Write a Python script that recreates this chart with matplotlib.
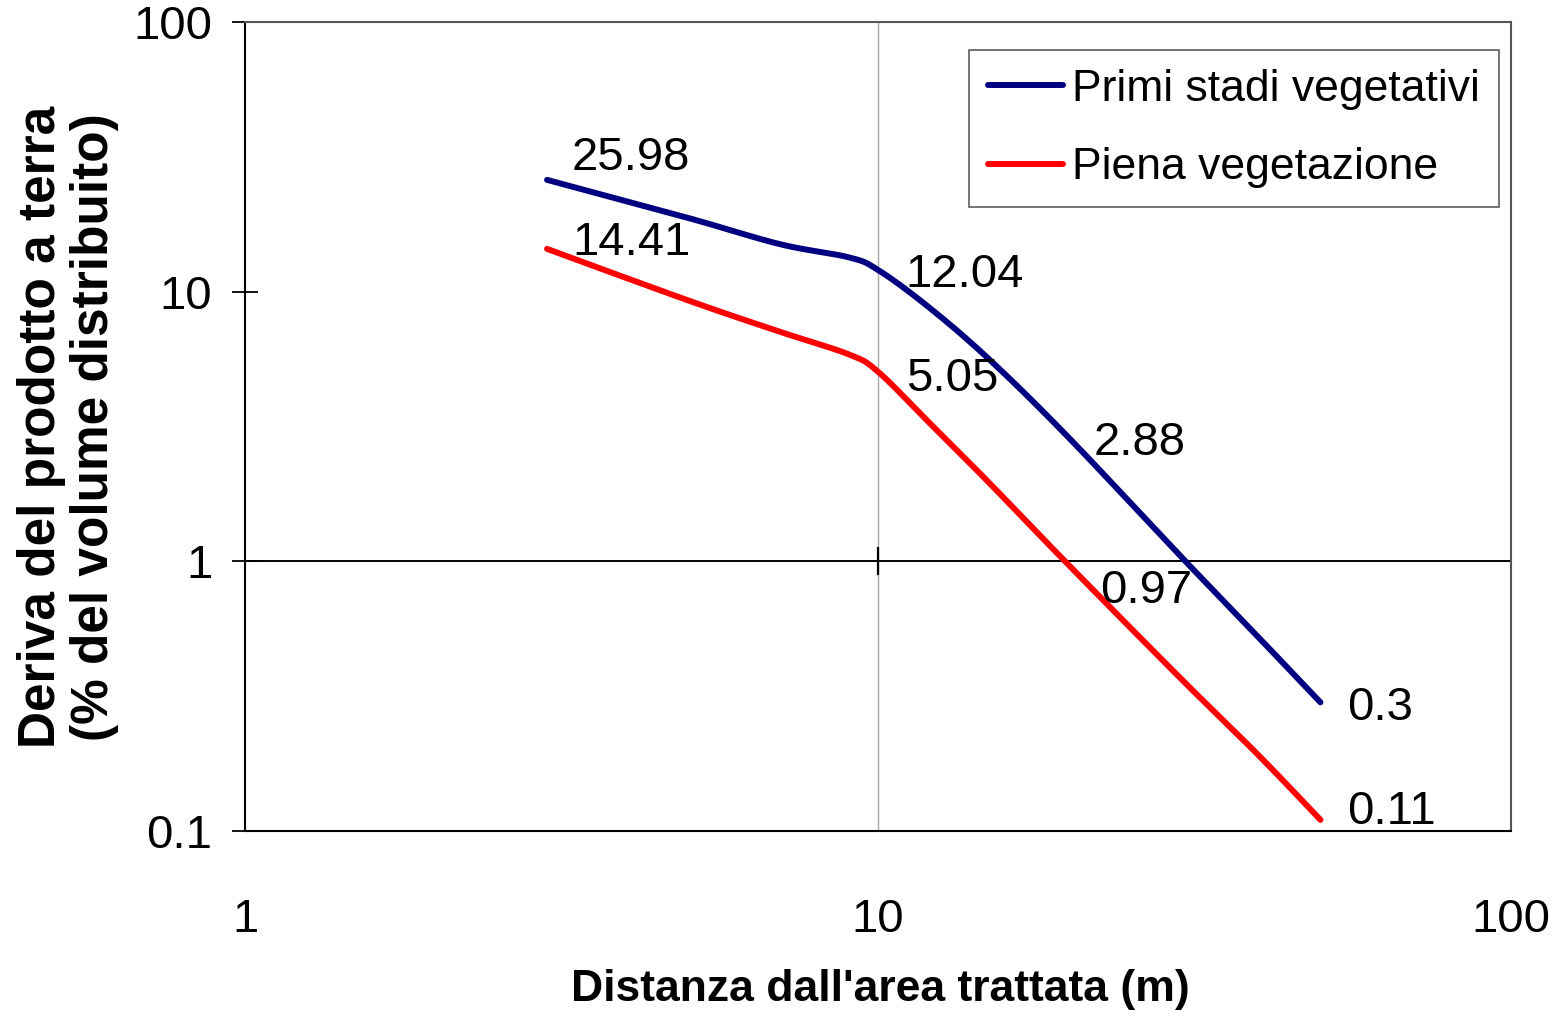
import numpy as np
import matplotlib
matplotlib.use('Agg')
import matplotlib.pyplot as plt

plt.rcParams['font.family'] = ['Liberation Sans', 'DejaVu Sans']

# data (distance in m, drift in %)
distanza = [3, 5, 7, 9, 10, 12, 15, 20, 30, 40, 50]
primi_stadi = [25.98, 18.8, 15.0, 13.4, 12.04, 8.8, 5.6, 2.88, 1.05, 0.52, 0.3]
piena_veg = [14.41, 9.3, 7.1, 5.85, 5.05, 3.3, 1.95, 0.97, 0.37, 0.19, 0.11]

# points carrying a data label
lab_idx = [0, 4, 7, 10]
labels_primi = ['25.98', '12.04', '2.88', '0.3']
labels_piena = ['14.41', '5.05', '0.97', '0.11']

# label offsets in points (layout only)
off_primi = [(18, 16), (20, -4), (18, -4), (19, -4)]
off_piena = [(18, 4), (20, -5), (23, -19), (19, 6)]

num_size = 34


def smooth(xs, ys, n=40):
    # excel-like smoothed line: catmull-rom bezier in log-log space
    P = np.column_stack([np.log10(xs), np.log10(ys)])
    P = np.vstack([P[0], P, P[-1]])
    out = []
    t = np.linspace(0, 1, n)[:, None]
    for i in range(1, len(P) - 2):
        p0, p1, p2, p3 = P[i-1], P[i], P[i+1], P[i+2]
        c1 = p1 + (p2 - p0) / 6
        c2 = p2 - (p3 - p1) / 6
        seg = (1-t)**3*p1 + 3*(1-t)**2*t*c1 + 3*(1-t)*t**2*c2 + t**3*p2
        out.append(seg)
    out = np.vstack(out)
    return 10**out[:, 0], 10**out[:, 1]


W, H = 1557, 1016
fig = plt.figure(figsize=(W/100, H/100), dpi=100)
ax = fig.add_axes([245/W, 1-831/H, (1511-245)/W, (831-22)/H])

ax.set_xscale('log')
ax.set_yscale('log')
ax.set_xlim(1, 100)
ax.set_ylim(0.1, 100)

blue = '#000080'
red = '#ff0000'

xb, yb = smooth(distanza, primi_stadi)
xr, yr = smooth(distanza, piena_veg)
ax.plot(xb, yb, color=blue, lw=4.3, solid_capstyle='round', label='Primi stadi vegetativi', zorder=4)
ax.plot(xr, yr, color=red, lw=4.3, solid_capstyle='round', label='Piena vegetazione', zorder=4)

for i, s, o in zip(lab_idx, labels_primi, off_primi):
    ax.annotate(s, (distanza[i], primi_stadi[i]), xytext=o, textcoords='offset points',
                fontsize=num_size, ha='left', va='center', zorder=5)
for i, s, o in zip(lab_idx, labels_piena, off_piena):
    ax.annotate(s, (distanza[i], piena_veg[i]), xytext=o, textcoords='offset points',
                fontsize=num_size, ha='left', va='center', zorder=5)

# gridline at x=10, category axis crossing at y=1
ax.axvline(10, color='#a6a6a6', lw=1.0, zorder=1)
ax.axhline(1, color='black', lw=1.4, zorder=2)
ax.axvline(10, ymin=1/3 - 13/809, ymax=1/3 + 13/809, color='black', lw=1.6, zorder=2)

for s in ['left', 'bottom']:
    ax.spines[s].set_color('black')
    ax.spines[s].set_linewidth(1.5)
for s in ['top', 'right']:
    ax.spines[s].set_color('#555555')
    ax.spines[s].set_linewidth(1.5)

ax.set_yticks([0.1, 1, 10, 100])
ax.set_yticklabels(['0.1', '1', '10', '100'])
ax.set_xticks([1, 10, 100])
ax.set_xticklabels(['1', '10', '100'])
ax.minorticks_off()
ax.tick_params(axis='y', direction='inout', length=19, width=1.3, labelsize=num_size, pad=14)
ax.tick_params(axis='x', length=0, labelsize=num_size, pad=48)

fig.text(880/W, 1-990/H, "Distanza dall'area trattata (m)", fontsize=32,
         fontweight='bold', ha='center', va='center')
fig.text(68/W, 1-427/H, "Deriva del prodotto a terra\n(% del volume distribuito)",
         fontsize=37, fontweight='bold', ha='center', va='center',
         rotation=90, linespacing=1.1)

leg = ax.legend(loc='upper right', bbox_to_anchor=(1499/W, 1-50/H),
                bbox_transform=fig.transFigure, frameon=True,
                prop={'size': 32},
                fancybox=False, edgecolor='#333333', borderaxespad=0,
                handlelength=1.69, handletextpad=0.22, labelspacing=0.85,
                borderpad=0.42)
leg.get_frame().set_linewidth(1.2)

fig.savefig('out.png', dpi=100)
